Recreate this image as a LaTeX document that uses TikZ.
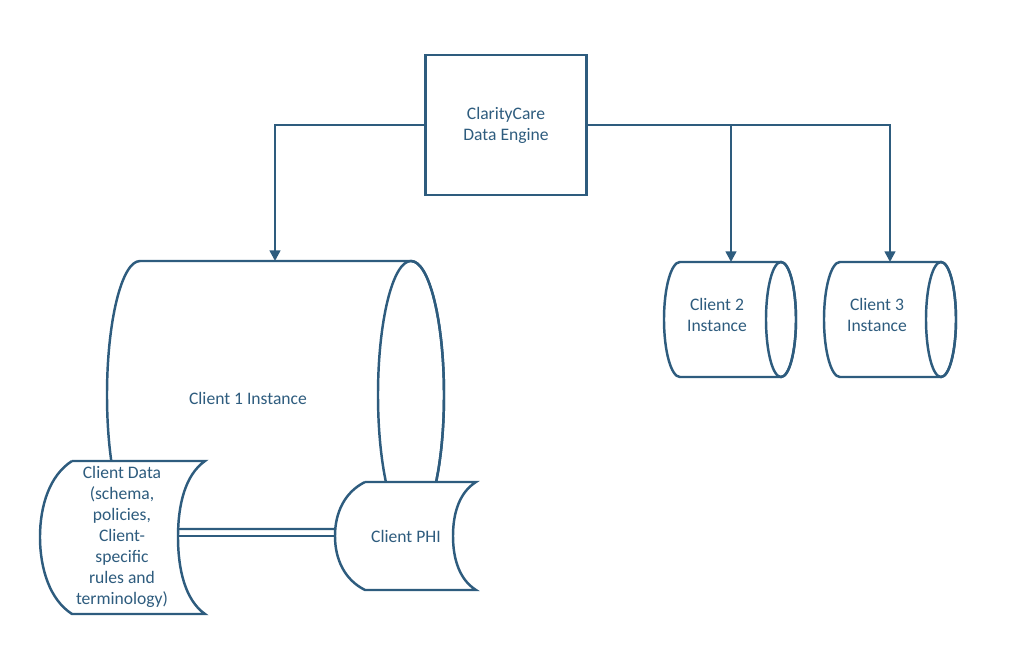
\documentclass[tikz,border=0pt]{standalone}
\usepackage{fontspec}
\setmainfont{Carlito}
\usetikzlibrary{arrows.meta}
\definecolor{inkblue}{HTML}{2E5C7E}
\begin{document}
\begin{tikzpicture}[
    x=0.02cm, y=-0.02cm,
    line/.style={draw=inkblue, line width=1.4pt},
    label/.style={text=inkblue, font=\fontsize{10}{12}\selectfont, align=center},
    conn/.style={line, -{Triangle[length=6pt, width=6pt]}}
]
\useasboundingbox (0,0) rectangle (1022,658);

% Data engine
\node[line, minimum width=3.22cm, minimum height=2.8cm, label] (engine) at (506,125) {ClarityCare\\Data Engine};

% Client 1 instance (horizontal cylinder)
\draw[line, fill=white] (140,261) -- (411,261) arc[start angle=-90, end angle=90, x radius=33, y radius=134]
    -- (140,529) arc[start angle=90, end angle=270, x radius=33, y radius=134] -- cycle;
\draw[line] (411,395) ellipse[x radius=33, y radius=134];
\node[label] (client1) at (248,398) {Client 1 Instance};

% Client 2 and 3 instances
\foreach \xl in {680, 840} {
  \draw[line, fill=white] (\xl,262) -- ({\xl+101},262) arc[start angle=-90, end angle=90, x radius=15, y radius=57.5]
      -- (\xl,377) arc[start angle=90, end angle=270, x radius=16, y radius=57.5] -- cycle;
  \draw[line] ({\xl+101},319.5) ellipse[x radius=15, y radius=57.5];
}
\node[label] (client2) at (717,315) {Client 2\\Instance};
\node[label] (client3) at (877,315) {Client 3\\Instance};

% Client data and PHI (stored data shapes)
\draw[line, fill=white] (72,461) -- (205,461) .. controls (185,475) and (178,505) .. (178,537)
    .. controls (178,569) and (185,600) .. (205,614) -- (72,614)
    .. controls (50,600) and (40,569) .. (40,537) .. controls (40,505) and (50,475) .. (72,461);
\node[label] (cdata) at (122,537) {Client Data\\(schema,\\policies,\\Client-\\specific\\rules and\\terminology)};
\draw[line, fill=white] (365,482) -- (476,482) .. controls (460,492) and (453,512) .. (453,536)
    .. controls (453,560) and (460,580) .. (476,590) -- (365,590)
    .. controls (345,580) and (335,560) .. (335,536) .. controls (335,512) and (345,492) .. (365,482);
\node[label] (phi) at (406,536) {Client PHI};

% Connection points
\coordinate (c1top) at (275,261);
\coordinate (c2top) at (731,262);
\coordinate (c3top) at (890,262);
\coordinate (cdright) at (178,536);
\coordinate (phileft) at (335,536);

% Connectors
\draw[conn] (engine.west) -| (c1top);
\draw[conn] (engine.east) -| (c3top);
\draw[conn] (engine.east -| c2top) -- (c2top);
\draw[line] (cdright) -- (phileft);
\end{tikzpicture}
\end{document}
